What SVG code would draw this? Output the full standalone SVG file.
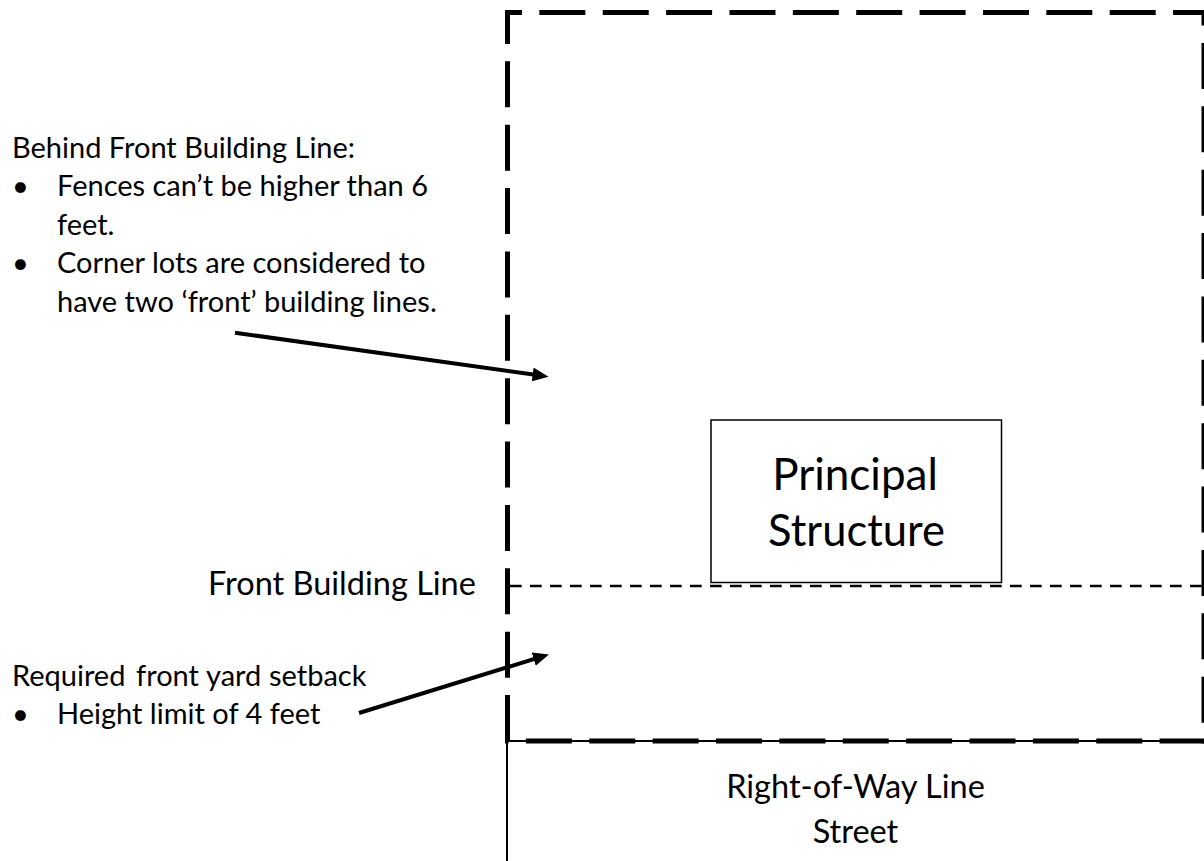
<svg xmlns="http://www.w3.org/2000/svg" width="1204" height="861" viewBox="0 0 1204 861">
<style>
text{font-family:Lato,"Open Sans","Liberation Sans",sans-serif;fill:#000}
.lbl{font-size:29px}
.mid{text-anchor:middle}
.lot{fill:none;stroke:#000;stroke-width:5;stroke-dasharray:46 17.37}
.thin{fill:none;stroke:#000;stroke-width:2}
.fbl{fill:none;stroke:#000;stroke-width:2.5;stroke-dasharray:11.7 8.3}
.arr{fill:none;stroke:#000;stroke-width:4;marker-end:url(#ah)}
</style>
<defs>
<marker id="ah" markerUnits="userSpaceOnUse" viewBox="0 0 16 14" refX="6" refY="7" markerWidth="16" markerHeight="14" orient="auto">
<path d="M0,0 L16,7 L0,14 z" fill="#000"/>
</marker>
</defs>
<rect width="1204" height="861" fill="#fff"/>
<g id="lot-boundary">
<line class="lot" x1="505" y1="12.5" x2="1206.5" y2="12.5" stroke-dashoffset="29"/>
<line class="lot" x1="1204" y1="10" x2="1204" y2="743.5" stroke-dashoffset="30.4"/>
<line class="lot" x1="1205.6" y1="741" x2="505" y2="741"/>
<line class="lot" x1="507.5" y1="741" x2="507.5" y2="10"/>
</g>
<g id="right-of-way">
<line class="thin" x1="507" y1="741" x2="1204" y2="741"/>
<line class="thin" x1="507" y1="741" x2="507" y2="861"/>
<text class="mid" x="855.5" y="798" font-size="32.5">Right-of-Way Line</text>
<text class="mid" x="855.5" y="842.5" font-size="32.5">Street</text>
</g>
<g id="front-building-line">
<line class="fbl" x1="505" y1="586" x2="1204" y2="586" stroke-dashoffset="15"/>
<text class="mid" x="342" y="595" font-size="32.5">Front Building Line</text>
</g>
<g id="principal-structure">
<rect x="711" y="420" width="290.5" height="162.5" fill="#fff" stroke="#000" stroke-width="1.5"/>
<text class="mid" x="855" y="490" font-size="44">Principal</text>
<text class="mid" x="856.5" y="546" font-size="43.5">Structure</text>
</g>
<g id="behind-note" class="lbl">
<text x="12" y="158">Behind Front Building Line:</text>
<text x="12" y="196.4">•</text>
<text x="57" y="196.4">Fences can’t be higher than 6</text>
<text x="57" y="234.8">feet.</text>
<text x="12" y="273.2">•</text>
<text x="57" y="273.2">Corner lots are considered to</text>
<text x="57" y="311.6">have two ‘front’ building lines.</text>
</g>
<g id="setback-note" class="lbl">
<text x="12" y="686">Required <tspan x="136">front</tspan> <tspan x="206">yard</tspan> <tspan x="269">setback</tspan></text>
<text x="12" y="724">•</text>
<text x="57" y="724">Height limit of 4 feet</text>
</g>
<g id="connectors">
<line class="arr" x1="235" y1="332.7" x2="538.6" y2="375.3"/>
<line class="arr" x1="359" y1="713" x2="539.4" y2="657.4"/>
</g>
</svg>
